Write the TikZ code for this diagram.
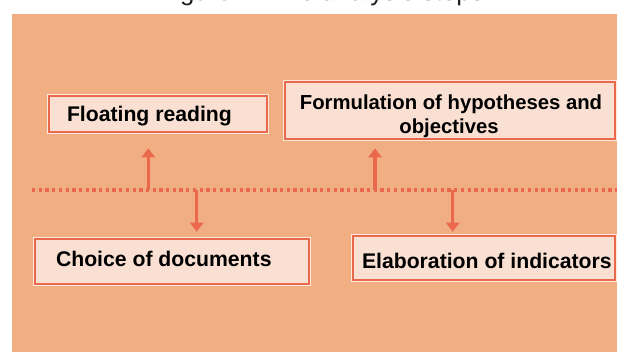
\documentclass[tikz,border=0pt]{standalone}
\usepackage{fontspec}
\setmainfont{Liberation Sans}
\usetikzlibrary{arrows.meta}
\definecolor{bgc}{HTML}{F2AE83}
\definecolor{boxfill}{HTML}{FAE0D2}
\definecolor{redc}{HTML}{EA684C}
\definecolor{lightc}{HTML}{FDE8DC}
\definecolor{capc}{HTML}{1E1E1E}
\tikzset{
  box/.style={draw=redc, line width=1.5pt, fill=boxfill, inner sep=0pt, outer sep=0pt,
    preaction={draw=lightc, line width=4.5pt}},
  lbl/.style={inner sep=0pt, outer sep=0pt, text=black, font=\bfseries\fontsize{21.2pt}{25pt}\selectfont},
  lblsmall/.style={inner sep=0pt, outer sep=0pt, text=black, align=center, font=\bfseries\fontsize{20.3pt}{24pt}\selectfont},
  dotline/.style={draw=redc, line width=3.5pt, dash pattern=on 3.3pt off 3.4pt},
  conn/.style={draw=redc, line width=3.5pt, -{Triangle[width=13pt,length=9pt]}}
}
\begin{document}
\begin{tikzpicture}[x=1pt,y=-1pt]
\useasboundingbox (0,0) rectangle (617,353);
\fill[bgc] (12,14.3) rectangle (617,352);
% clipped caption above the panel
\begin{scope}
  \clip (0,0) rectangle (617,14.3);
  \node[anchor=base west, inner sep=0pt, text=capc, font=\fontsize{25.8pt}{30pt}\selectfont] (cap) at (158.5,0.5) {Figure 1: The analysis steps};
\end{scope}
% boxes
\node[box, minimum width=218pt, minimum height=36pt] (fr) at (158,114) {};
\node[box, minimum width=330pt, minimum height=57pt] (fh) at (450,110.5) {};
\node[box, minimum width=274pt, minimum height=45pt] (cd) at (172,261.5) {};
\node[box, minimum width=262pt, minimum height=44pt] (ei) at (484,258) {};
% labels
\node[lbl, anchor=base west] (frt) at (67,121.7) {Floating reading};
\node[lblsmall, anchor=base] (fht1) at (451,109.3) {Formulation of hypotheses and};
\node[lblsmall, anchor=base] (fht2) at (449,133.3) {objectives};
\node[lbl, anchor=base west] (cdt) at (56,266) {Choice of documents};
\node[lbl, anchor=base west] (eit) at (362,268.3) {Elaboration of indicators};
% dotted timeline
\coordinate (l0) at (32,190);
\coordinate (l1) at (617,190);
\draw[dotline] (l0) -- (l1);
\coordinate (d1) at (148.3,190);
\coordinate (d2) at (196.7,190);
\coordinate (d3) at (375,190);
\coordinate (d4) at (452.7,190);
% connectors
\draw[conn, shorten >=16.3pt] (d1) -- (d1 |- fr.south);
\draw[conn, shorten >=7.3pt] (d2) -- (d2 |- cd.north);
\draw[conn, shorten >=9.3pt] (d3) -- (d3 |- fh.south);
\draw[conn, shorten >=4.3pt] (d4) -- (d4 |- ei.north);
\end{tikzpicture}
\end{document}
